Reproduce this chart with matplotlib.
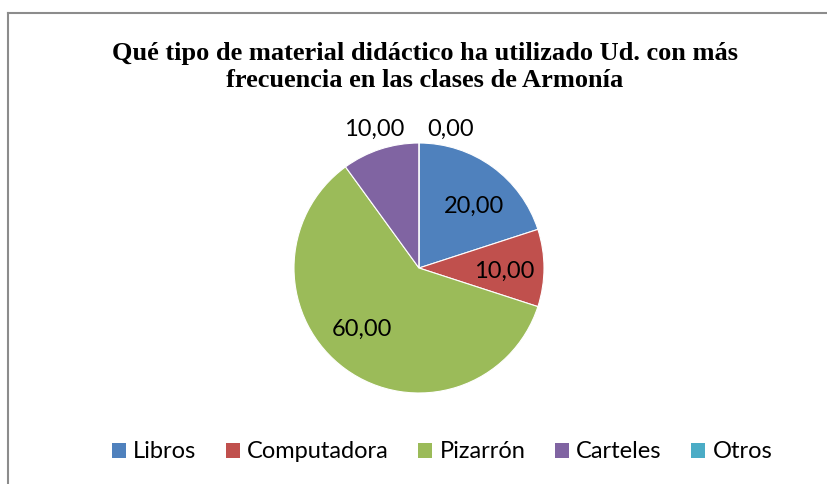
import matplotlib
matplotlib.use("Agg")
import matplotlib.pyplot as plt
from matplotlib.lines import Line2D
import numpy as np

categories = ["Libros", "Computadora", "Pizarrón", "Carteles", "Otros"]
values = [20.0, 10.0, 60.0, 10.0, 0.0]
colors = ["#4F81BD", "#C0504D", "#9BBB59", "#8064A2", "#4BACC6"]
title = "Qué tipo de material didáctico ha utilizado Ud. con más\nfrecuencia en las clases de Armonía"

# label placement (layout only): radius along the slice mid-angle, angle shift in degrees
label_radius = [0.66, 0.68, 0.67, 1.17, 1.14]
label_shift = [-6, -2.5, -6.6, 0, -12.7]

W, H = 827, 484
fig = plt.figure(figsize=(W / 100, H / 100), dpi=100)

# frame (top and left edges visible)
fig.add_artist(Line2D([7.5 / W, 7.5 / W], [0, 1 - 12.5 / H], transform=fig.transFigure,
                      color="#8C8C8C", lw=1.5))
fig.add_artist(Line2D([7.5 / W, 1.0], [1 - 12.5 / H, 1 - 12.5 / H], transform=fig.transFigure,
                      color="#8C8C8C", lw=1.5))

cx, cy, r = 419, 268, 125
ax = fig.add_axes([(cx - r) / W, (H - cy - r) / H, 2 * r / W, 2 * r / H])

def fmt(v):
    return f"{v:.2f}".replace(".", ",")

wedges, _ = ax.pie(values, colors=colors, startangle=90, counterclock=False,
                   radius=1.0, wedgeprops=dict(linewidth=0.8, edgecolor="white"))
ax.set_xlim(-1, 1)
ax.set_ylim(-1, 1)
ax.axis("off")

label_font = dict(family=["Lato", "DejaVu Sans"], fontsize=17, color="black")
for w, v, rr, sh in zip(wedges, values, label_radius, label_shift):
    ang = np.deg2rad((w.theta1 + w.theta2) / 2 + sh)
    ax.text(rr * np.cos(ang), rr * np.sin(ang), fmt(v), ha="center", va="center",
            clip_on=False, **label_font)

fig.text(425 / W, 1 - 67 / H, title, ha="center", va="center",
         family=["Liberation Serif"], fontweight="bold", fontsize=19, linespacing=1.2)

handles = [plt.Rectangle((0, 0), 1, 1, facecolor=c) for c in colors]
fig.legend(handles, categories, loc="center", bbox_to_anchor=(442 / W, 1 - 452 / H),
           ncol=5, frameon=False, prop=dict(family=["Lato", "DejaVu Sans"], size=17),
           handlelength=0.6, handleheight=0.6, handletextpad=0.3, columnspacing=1.25)

fig.savefig("out.png", dpi=100)
